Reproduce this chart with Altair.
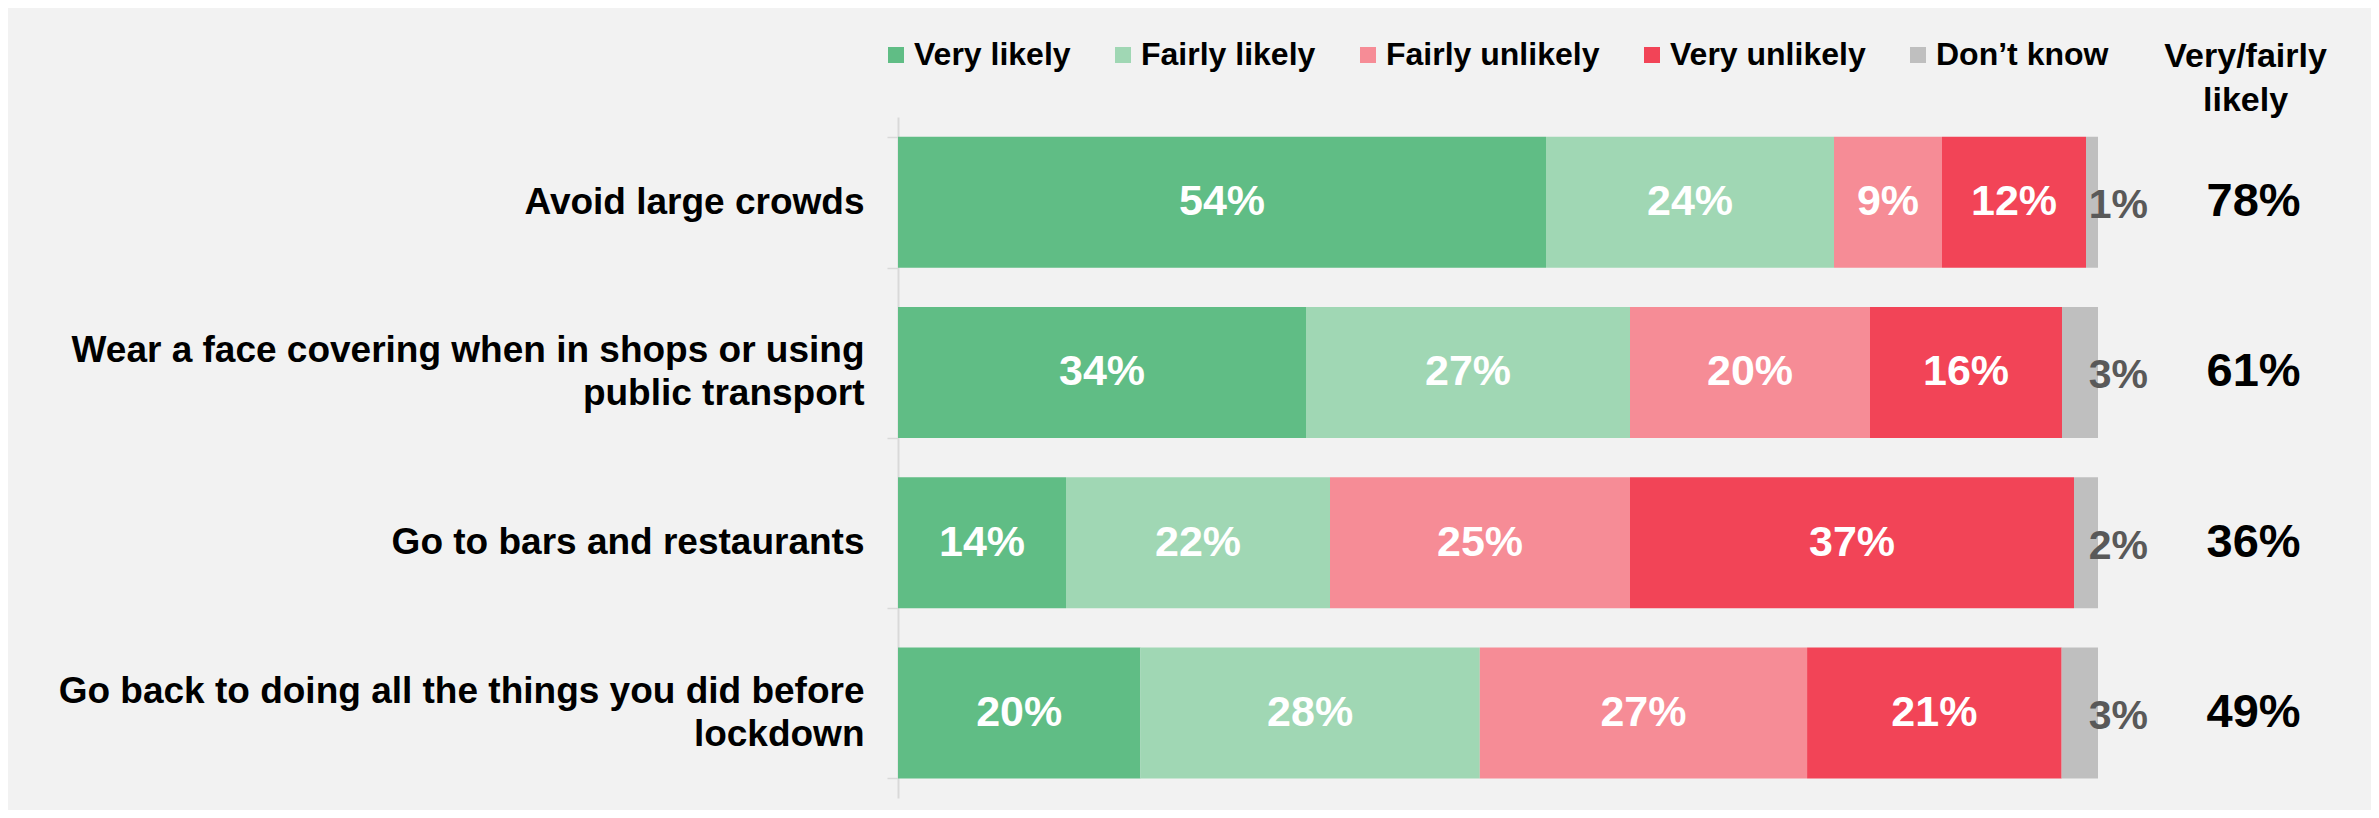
import json
import altair as alt
import pandas as pd

# ---------------- data ----------------
CATEGORIES = [
    "Avoid large crowds",
    "Wear a face covering when in shops or using public transport",
    "Go to bars and restaurants",
    "Go back to doing all the things you did before lockdown",
]
WRAPPED = {
    "Wear a face covering when in shops or using public transport":
        ["Wear a face covering when in shops or using", "public transport"],
    "Go back to doing all the things you did before lockdown":
        ["Go back to doing all the things you did before", "lockdown"],
}
RESPONSES = ["Very likely", "Fairly likely", "Fairly unlikely", "Very unlikely", "Don\u2019t know"]
COLORS = ["#60BD85", "#A0D7B4", "#F68C96", "#F24457", "#BFBFBF"]

VERY_LIKELY = [54, 34, 14, 20]
FAIRLY_LIKELY = [24, 27, 22, 28]
FAIRLY_UNLIKELY = [9, 20, 25, 27]
VERY_UNLIKELY = [12, 16, 37, 21]
DONT_KNOW = [1, 3, 2, 3]
NET_LIKELY = [78, 61, 36, 49]
HEADER = "Very/fairly\nlikely"

SERIES = [VERY_LIKELY, FAIRLY_LIKELY, FAIRLY_UNLIKELY, VERY_UNLIKELY, DONT_KNOW]

rows = []
for i, cat in enumerate(CATEGORIES):
    total = sum(s[i] for s in SERIES)
    cum = 0
    for resp, s in zip(RESPONSES, SERIES):
        v = s[i]
        rows.append({
            "category": cat,
            "response": resp,
            "value": v,
            "label": f"{v}%",
            "start": cum / total,
            "end": (cum + v) / total,
            "mid": (cum + v / 2) / total,
        })
        cum += v
df = pd.DataFrame(rows)
net_df = pd.DataFrame({"category": CATEGORIES, "label": [f"{v}%" for v in NET_LIKELY]})
head_df = pd.DataFrame({"t": [HEADER]})

# ---------------- layout constants ----------------
FONT = "Liberation Sans, Arial, Helvetica, sans-serif"
BAR_PX = 1200          # pixel width of 100 %
PLOT_W = 1473
PLOT_H = 681
X_MAX = PLOT_W / BAR_PX
DK_X = 1.017
NET_X = 1.1296
HEAD_X = 1.123
LINE_H = 43

label_expr = "datum.label"
for k, lines in WRAPPED.items():
    label_expr = f"datum.label === {json.dumps(k)} ? {json.dumps(lines)} : ({label_expr})"
wrap_test = " || ".join(f"datum.value === {json.dumps(k)}" for k in WRAPPED)

y_enc = alt.Y(
    "category:N",
    sort=CATEGORIES,
    scale=alt.Scale(domain=CATEGORIES, paddingInner=0.23, paddingOuter=0.115),
    axis=alt.Axis(
        title=None,
        labelExpr=label_expr,
        labelFont=FONT,
        labelFontSize=37,
        labelFontWeight="bold",
        labelColor="#000000",
        labelLimit=2000,
        labelPadding=23,
        labelLineHeight=LINE_H,
        labelOffset={"condition": {"test": wrap_test, "value": -LINE_H / 2}, "value": 0},
        tickBand="extent",
        tickSize=11,
        tickColor="#D9D9D9",
        tickWidth=1.5,
        domainColor="#D9D9D9",
        domainWidth=2,
        grid=False,
    ),
)

x_scale = alt.Scale(domain=[0, X_MAX], nice=False, zero=True)

bars = alt.Chart(df).mark_bar(size=131).encode(
    x=alt.X("start:Q", scale=x_scale, axis=None),
    x2="end:Q",
    y=y_enc,
    color=alt.Color(
        "response:N",
        scale=alt.Scale(domain=RESPONSES, range=COLORS),
        sort=RESPONSES,
        legend=alt.Legend(
            title=None,
            orient="none",
            legendX=-18,
            legendY=-78,
            direction="horizontal",
            columns=5,
            symbolType="square",
            symbolSize=256,
            symbolStrokeWidth=0,
            symbolOpacity=1,
            labelFont=FONT,
            labelFontSize=32,
            labelFontWeight="bold",
            labelColor="#000000",
            labelOffset=2,
            columnPadding=36,
            labelLimit=600,
            padding=0,
        ),
    ),
)

inner_text = alt.Chart(df).transform_filter(
    alt.datum.response != RESPONSES[-1]
).mark_text(
    font=FONT, fontSize=43, fontWeight="bold", color="#FFFFFF", align="center", baseline="middle"
).encode(
    x=alt.X("mid:Q", scale=x_scale),
    y=alt.Y("category:N", sort=CATEGORIES),
    text="label:N",
)

dk_text = alt.Chart(df).transform_filter(
    alt.datum.response == RESPONSES[-1]
).mark_text(
    font=FONT, fontSize=41, fontWeight="bold", color="#595959", align="center", baseline="middle", dy=4
).encode(
    x=alt.datum(DK_X),
    y=alt.Y("category:N", sort=CATEGORIES),
    text="label:N",
)

net_text = alt.Chart(net_df).mark_text(
    font=FONT, fontSize=47, fontWeight="bold", color="#000000", align="center", baseline="middle"
).encode(
    x=alt.datum(NET_X),
    y=alt.Y("category:N", sort=CATEGORIES),
    text="label:N",
)

header = alt.Chart(head_df).mark_text(
    font=FONT, fontSize=34, fontWeight="bold", color="#000000", align="center",
    baseline="alphabetic", lineBreak="\n", lineHeight=44
).encode(
    x=alt.datum(HEAD_X),
    y=alt.value(-50),
    text="t:N",
)

chart = alt.layer(bars, inner_text, dk_text, net_text, header).properties(
    width=PLOT_W,
    height=PLOT_H,
    autosize=alt.AutoSizeParams(type="none"),
    padding={"left": 890, "top": 109, "right": 0, "bottom": 12},
).configure(
    background="#F2F2F2",
).configure_view(
    stroke=None,
)

chart.save("out.html", embed_options={"renderer": "svg", "actions": False})
